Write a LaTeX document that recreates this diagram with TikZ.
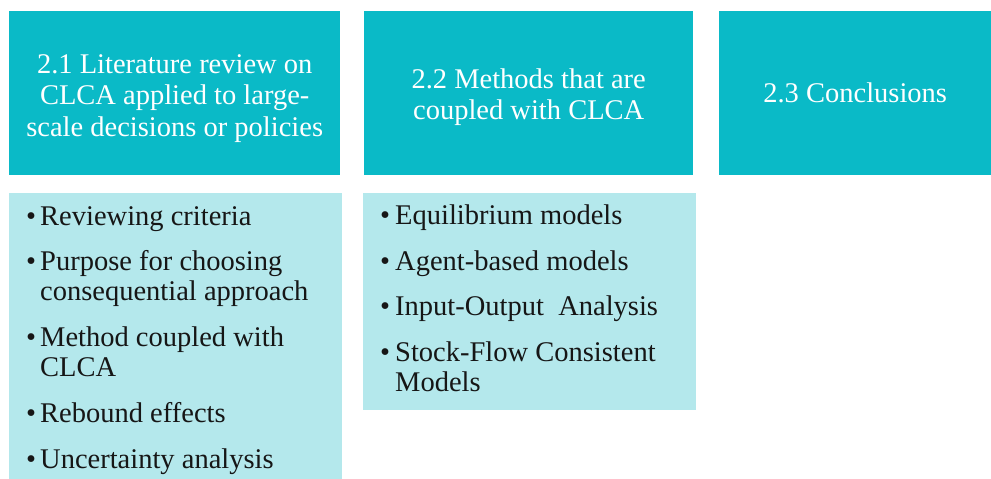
\documentclass[tikz,border=0pt]{standalone}
\usepackage{fontspec}
\setmainfont{Liberation Serif}
\definecolor{tealbox}{RGB}{10,186,199}
\definecolor{lightbox}{RGB}{180,232,236}
\definecolor{ink}{RGB}{22,22,22}
\tikzset{
  headbox/.style={fill=tealbox, draw=none, anchor=north west,
    inner sep=0pt, minimum height=164pt},
  headtext/.style={text=white, align=center, inner sep=0pt, font=\fontsize{28.5}{31.5}\selectfont},
  bodybox/.style={fill=lightbox, draw=none, anchor=north west, inner sep=0pt},
  bul/.style={anchor=base west, inner sep=0pt, text=ink, font=\fontsize{28.5}{30}\selectfont},
  itemtext/.style={anchor=base west, inner sep=0pt, text=ink, font=\fontsize{28.5}{30}\selectfont}
}
\begin{document}
\begin{tikzpicture}[x=1pt,y=-1pt]
\useasboundingbox (0,0) rectangle (991,479);
% header boxes
\node[headbox, minimum width=331pt] (h1) at (9,11) {};
\node[headbox, minimum width=329pt] (h2) at (364,11) {};
\node[headbox, minimum width=272pt] (h3) at (719,11) {};
\node[headtext] (t1) at ([yshift=-5pt]h1.center) {2.1 Literature review on\\CLCA applied to large-\\scale decisions or policies};
\node[headtext] (t2) at ([yshift=-4pt]h2.center) {2.2 Methods that are\\coupled with CLCA};
\node[headtext] (t3) at (h3.center) {2.3 Conclusions};
% body boxes
\node[bodybox, minimum width=333pt, minimum height=286pt] (b1) at (9,193) {};
\node[bodybox, minimum width=333pt, minimum height=217pt] (b2) at (363,193) {};
% left list
\node[bul] (l1b) at (26,225) {•};
\node[itemtext] (l1) at (40,225) {Reviewing criteria};
\node[bul] (l2b) at (26,270) {•};
\node[itemtext] (l2) at (40,270) {\begin{tabular}[t]{@{}l@{}}Purpose for choosing\\consequential approach\end{tabular}};
\node[bul] (l3b) at (26,346) {•};
\node[itemtext] (l3) at (40,346) {\begin{tabular}[t]{@{}l@{}}Method coupled with\\CLCA\end{tabular}};
\node[bul] (l4b) at (26,422) {•};
\node[itemtext] (l4) at (40,422) {Rebound effects};
\node[bul] (l5b) at (26,468) {•};
\node[itemtext] (l5) at (40,468) {Uncertainty analysis};
% middle list
\node[bul] (m1b) at (380,224) {•};
\node[itemtext] (m1) at (395,224) {Equilibrium models};
\node[bul] (m2b) at (380,270) {•};
\node[itemtext] (m2) at (395,270) {Agent-based models};
\node[bul] (m3b) at (380,315) {•};
\node[itemtext] (m3) at (395,315) {Input-Output\ \ Analysis};
\node[bul] (m4b) at (380,361) {•};
\node[itemtext] (m4) at (395,361) {\begin{tabular}[t]{@{}l@{}}Stock-Flow Consistent\\Models\end{tabular}};
\end{tikzpicture}
\end{document}
